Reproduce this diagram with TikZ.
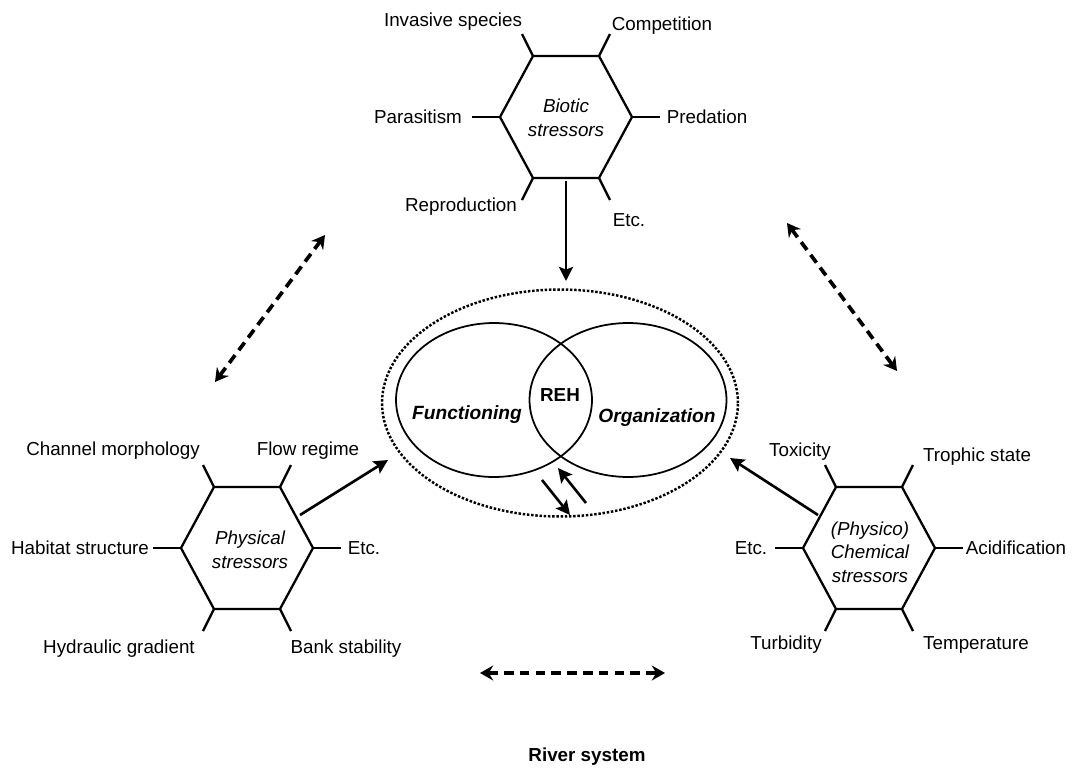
\documentclass[tikz,border=0pt]{standalone}
\usepackage{fontspec}
\setmainfont{Liberation Sans}
\usetikzlibrary{arrows.meta,calc,positioning,shapes.geometric}

\begin{document}
\begin{tikzpicture}[x=0.02cm,y=-0.02cm,
    every node/.style={font=\fontsize{10.7}{13.5}\selectfont, inner sep=0pt},
    stresslbl/.style={anchor=base},
    stresstext/.style={align=center, font=\fontsize{10.7}{13.5}\selectfont\itshape},
    hexline/.style={line width=1.3pt},
    vennline/.style={draw, ellipse, line width=1pt},
    stressarrow/.style={line width=1.5pt, -{Stealth[length=8pt,width=8pt,inset=1.5pt]}},
    linkarrow/.style={line width=2.1pt, dash pattern=on 5.5pt off 3.5pt,
      {Stealth[length=7.5pt,width=8.5pt,inset=2.5pt]}-{Stealth[length=7.5pt,width=8.5pt,inset=2.5pt]}}]
  \useasboundingbox (0,0) rectangle (1072,768);
  % Draw the stressor hexagons
  \foreach \h/\hx/\hy in {bio/566/117, phy/247/548, che/869/548}{
    \coordinate (\h) at (\hx,\hy);
    \foreach \n/\dx/\dy/\sx/\sy in {1/66/0/28/0, 2/33/-61/11/-22, 3/-33/-61/-11/-22,
                                    4/-66/0/-28/0, 5/-33/61/-11/22, 6/33/61/11/22}{
      \coordinate (\h-v\n) at ($(\h)+(\dx,\dy)$);
      \coordinate (\h-s\n) at ($(\h-v\n)+(\sx,\sy)$);
    }
    \draw[hexline] (\h-v1) -- (\h-v2) -- (\h-v3) -- (\h-v4) -- (\h-v5) -- (\h-v6) -- cycle;
    \foreach \n in {1,...,6} \draw[hexline] (\h-v\n) -- (\h-s\n);
  }
  \node[stresstext] (bioText) at (566,118) {Biotic\\stressors};
  \node[stresstext] (phyText) at (250,550) {Physical\\stressors};
  \node[stresstext] (cheText) at (870,552) {(Physico)\\Chemical\\stressors};
  % Label the stressors
  \node[stresslbl] (invasive) at (453,26) {Invasive species};
  \node[stresslbl] (competition) at (662,30) {Competition};
  \node[stresslbl] (parasitism) at (418,123) {Parasitism};
  \node[stresslbl] (predation) at (707,123) {Predation};
  \node[stresslbl] (reproduction) at (461,211) {Reproduction};
  \node[stresslbl] (bioEtc) at (629,226) {Etc.};
  \node[stresslbl] (channel) at (113,455) {Channel morphology};
  \node[stresslbl] (flow) at (308,455) {Flow regime};
  \node[stresslbl] (habitat) at (80,554) {Habitat structure};
  \node[stresslbl] (phyEtc) at (364,554) {Etc.};
  \node[stresslbl] (hydraulic) at (119,653) {Hydraulic gradient};
  \node[stresslbl] (bank) at (346,653) {Bank stability};
  \node[stresslbl] (toxicity) at (800,456) {Toxicity};
  \node[stresslbl] (trophic) at (977,461) {Trophic state};
  \node[stresslbl] (cheEtc) at (751,554) {Etc.};
  \node[stresslbl] (acid) at (1016,554) {Acidification};
  \node[stresslbl] (turbidity) at (786,649) {Turbidity};
  \node[stresslbl] (temperature) at (976,649) {Temperature};
  % Draw the river ecosystem health
  \node[draw, ellipse, line width=1.4pt, densely dotted, minimum width=7.12cm, minimum height=4.54cm] (ring) at (560,403) {};
  \node[vennline, minimum width=3.92cm, minimum height=3.08cm] (func) at (494,400) {};
  \node[vennline, minimum width=3.94cm, minimum height=3.08cm] (org) at (628,400) {};
  \node[font=\fontsize{10.9}{13}\selectfont\bfseries\itshape] (funcText) at (467,415) {Functioning};
  \node[font=\fontsize{10.9}{13}\selectfont\bfseries\itshape] (orgText) at (657,418) {Organization};
  \node[font=\fontsize{10.7}{13}\selectfont\bfseries] (reh) at (560,395) {REH};
  % Define points
  \coordinate (bioOut) at (566,181);
  \coordinate (ringN) at (566,281);
  \coordinate (phyOut) at (300,515);
  \coordinate (ringW) at (388,460);
  \coordinate (cheOut) at (818,515);
  \coordinate (ringE) at (730,458);
  \coordinate (fbA) at (542,480);
  \coordinate (fbB) at (570,515);
  \coordinate (fbC) at (586,503);
  \coordinate (fbD) at (558,468);
  \coordinate (lnkA) at (215,382);
  \coordinate (lnkB) at (325,235);
  \coordinate (lnkC) at (787,223);
  \coordinate (lnkD) at (897,371);
  \coordinate (lnkE) at (480,673);
  \coordinate (lnkF) at (665,673);
  % Draw the arrows
  \draw[stressarrow] (bioOut) -- (ringN);
  \draw[stressarrow] (phyOut) -- (ringW);
  \draw[stressarrow] (cheOut) -- (ringE);
  \draw[stressarrow] (fbA) -- (fbB);
  \draw[stressarrow] (fbC) -- (fbD);
  \draw[linkarrow] (lnkA) -- (lnkB);
  \draw[linkarrow] (lnkC) -- (lnkD);
  \draw[linkarrow] (lnkE) -- (lnkF);
  \node[font=\fontsize{10.7}{13}\selectfont\bfseries, anchor=base] (river) at (587,761) {River system};
\end{tikzpicture}
\end{document}
